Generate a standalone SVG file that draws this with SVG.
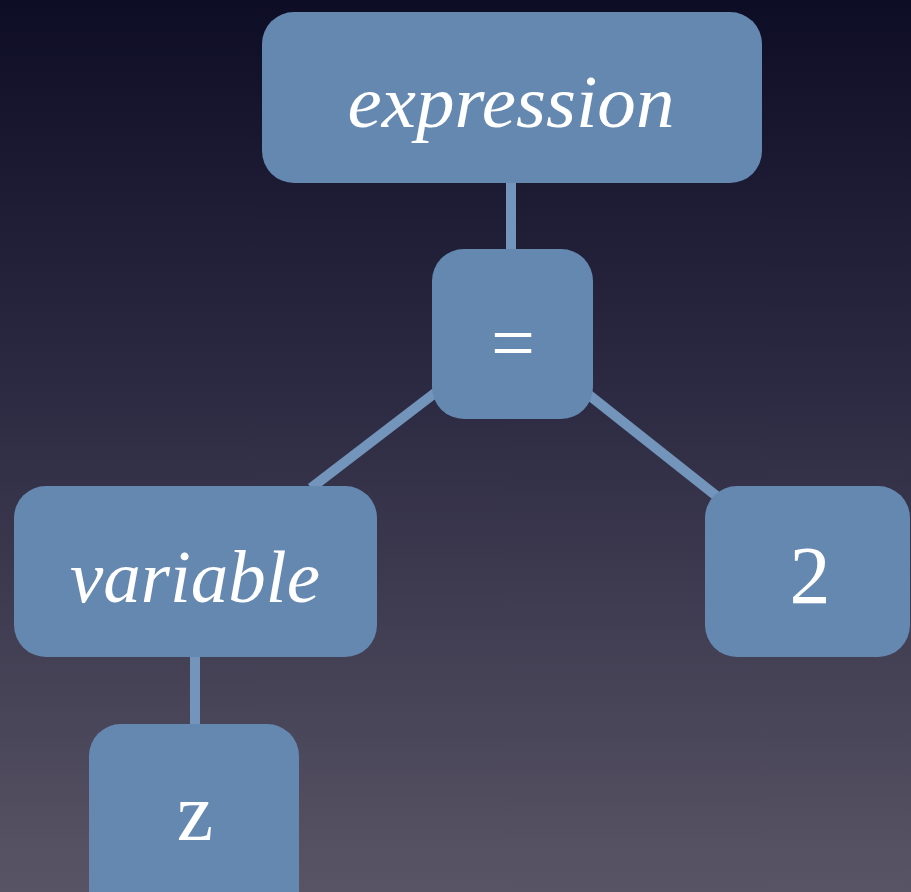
<svg xmlns="http://www.w3.org/2000/svg" width="911" height="892" viewBox="0 0 911 892">
  <defs>
    <linearGradient id="bg" x1="0" y1="0" x2="0" y2="1">
      <stop offset="0" stop-color="#0e0d26"/>
      <stop offset="0.45" stop-color="#2d2b43"/>
      <stop offset="1" stop-color="#595465"/>
    </linearGradient>
    <style>
      .node { fill: #6588b0; }
      .edge { stroke: #7394bb; stroke-width: 10; fill: none; }
      .lbl { fill: #ffffff; font-family: "Liberation Serif", "DejaVu Serif", serif; text-anchor: middle; }
      .it { font-style: italic; }
    </style>
  </defs>

  <rect width="911" height="892" fill="url(#bg)"/>

  <!-- connectors -->
  <g id="edges">
    <line class="edge" x1="511" y1="183" x2="511" y2="250"/>
    <line class="edge" x1="512" y1="334" x2="311" y2="488"/>
    <line class="edge" x1="512" y1="334" x2="719" y2="498"/>
    <line class="edge" x1="195" y1="656" x2="195" y2="725"/>
  </g>

  <g id="node-expression">
    <rect class="node" x="262" y="12" width="500" height="171" rx="32"/>
    <text class="lbl it" x="511" y="127" font-size="74" textLength="327" lengthAdjust="spacingAndGlyphs">expression</text>
  </g>

  <g id="node-equals">
    <rect class="node" x="432" y="249" width="161" height="170" rx="32"/>
    <text class="lbl" x="513" y="369" font-size="78">=</text>
  </g>

  <g id="node-variable">
    <rect class="node" x="14" y="486" width="363" height="171" rx="32"/>
    <text class="lbl it" x="195" y="602" font-size="75" textLength="250" lengthAdjust="spacingAndGlyphs">variable</text>
  </g>

  <g id="node-two">
    <rect class="node" x="705" y="486" width="205" height="171" rx="32"/>
    <text class="lbl" x="810" y="603" font-size="82">2</text>
  </g>

  <g id="node-z">
    <rect class="node" x="89" y="724" width="210" height="200" rx="32"/>
    <text class="lbl" x="195" y="840" font-size="82">z</text>
  </g>
</svg>
